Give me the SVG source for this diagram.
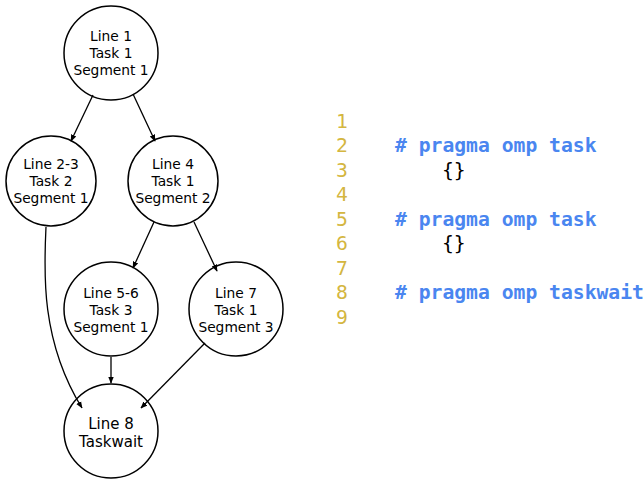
<svg xmlns="http://www.w3.org/2000/svg" width="644" height="485" viewBox="0 0 644 485">
<style>
.node circle{fill:#fff;stroke:#000;stroke-width:1.5}
.node text{font-family:"DejaVu Sans",sans-serif;font-size:13.8px;text-anchor:middle;fill:#000}
.node text.big{font-size:15px}
.edges path{fill:none;stroke:#000;stroke-width:1.3;marker-end:url(#arr)}
.ln{font-family:"DejaVu Sans Mono",monospace;font-size:19.7px;fill:#d4b640}
.kw{font-family:"DejaVu Sans Mono",monospace;font-size:19.7px;font-weight:bold;fill:#4a86f0}
.br{font-family:"DejaVu Sans Mono",monospace;font-size:19.7px;fill:#000}
</style>
<defs>
<marker id="arr" viewBox="0 0 10 10" refX="9" refY="5" markerWidth="7" markerHeight="7" markerUnits="userSpaceOnUse" orient="auto">
<path d="M0,1 L10,5 L0,9 z" fill="#000"/>
</marker>
</defs>
<g id="n1" class="node"><circle cx="111" cy="53" r="47"/><text x="111" y="41">Line 1</text><text x="111" y="58">Task 1</text><text x="111" y="75">Segment 1</text></g>
<g id="n2" class="node"><circle cx="51" cy="181" r="45"/><text x="51" y="169">Line 2-3</text><text x="51" y="186">Task 2</text><text x="51" y="203">Segment 1</text></g>
<g id="n3" class="node"><circle cx="173" cy="181" r="45"/><text x="173" y="169">Line 4</text><text x="173" y="186">Task 1</text><text x="173" y="203">Segment 2</text></g>
<g id="n4" class="node"><circle cx="111" cy="309" r="47"/><text x="111" y="298">Line 5-6</text><text x="111" y="315">Task 3</text><text x="111" y="332">Segment 1</text></g>
<g id="n5" class="node"><circle cx="236" cy="309" r="47"/><text x="236" y="298">Line 7</text><text x="236" y="315">Task 1</text><text x="236" y="332">Segment 3</text></g>
<g id="n6" class="node"><circle cx="111" cy="431" r="47"/><text class="big" x="111" y="429">Line 8</text><text class="big" x="111" y="447">Taskwait</text></g>
<g class="edges">
<path d="M93,95 L71,141"/>
<path d="M133,94 L155,141"/>
<path d="M154,222 L133,268"/>
<path d="M194,222 L217,271"/>
<path d="M46,227 C44,270 40,340 82,408"/>
<path d="M111,357 L111,383"/>
<path d="M205,343 L141,408"/>
</g>
<g id="code">
<text class="ln" x="336" y="128">1</text>
<text class="ln" x="336" y="152">2</text>
<text class="ln" x="336" y="177">3</text>
<text class="ln" x="336" y="201">4</text>
<text class="ln" x="336" y="226">5</text>
<text class="ln" x="336" y="250">6</text>
<text class="ln" x="336" y="275">7</text>
<text class="ln" x="336" y="299">8</text>
<text class="ln" x="336" y="324">9</text>
<text class="kw" x="395" y="152"># pragma omp task</text>
<text class="br" x="442" y="177">{}</text>
<text class="kw" x="395" y="226"># pragma omp task</text>
<text class="br" x="442" y="250">{}</text>
<text class="kw" x="395" y="299"># pragma omp taskwait</text>
</g>
</svg>
